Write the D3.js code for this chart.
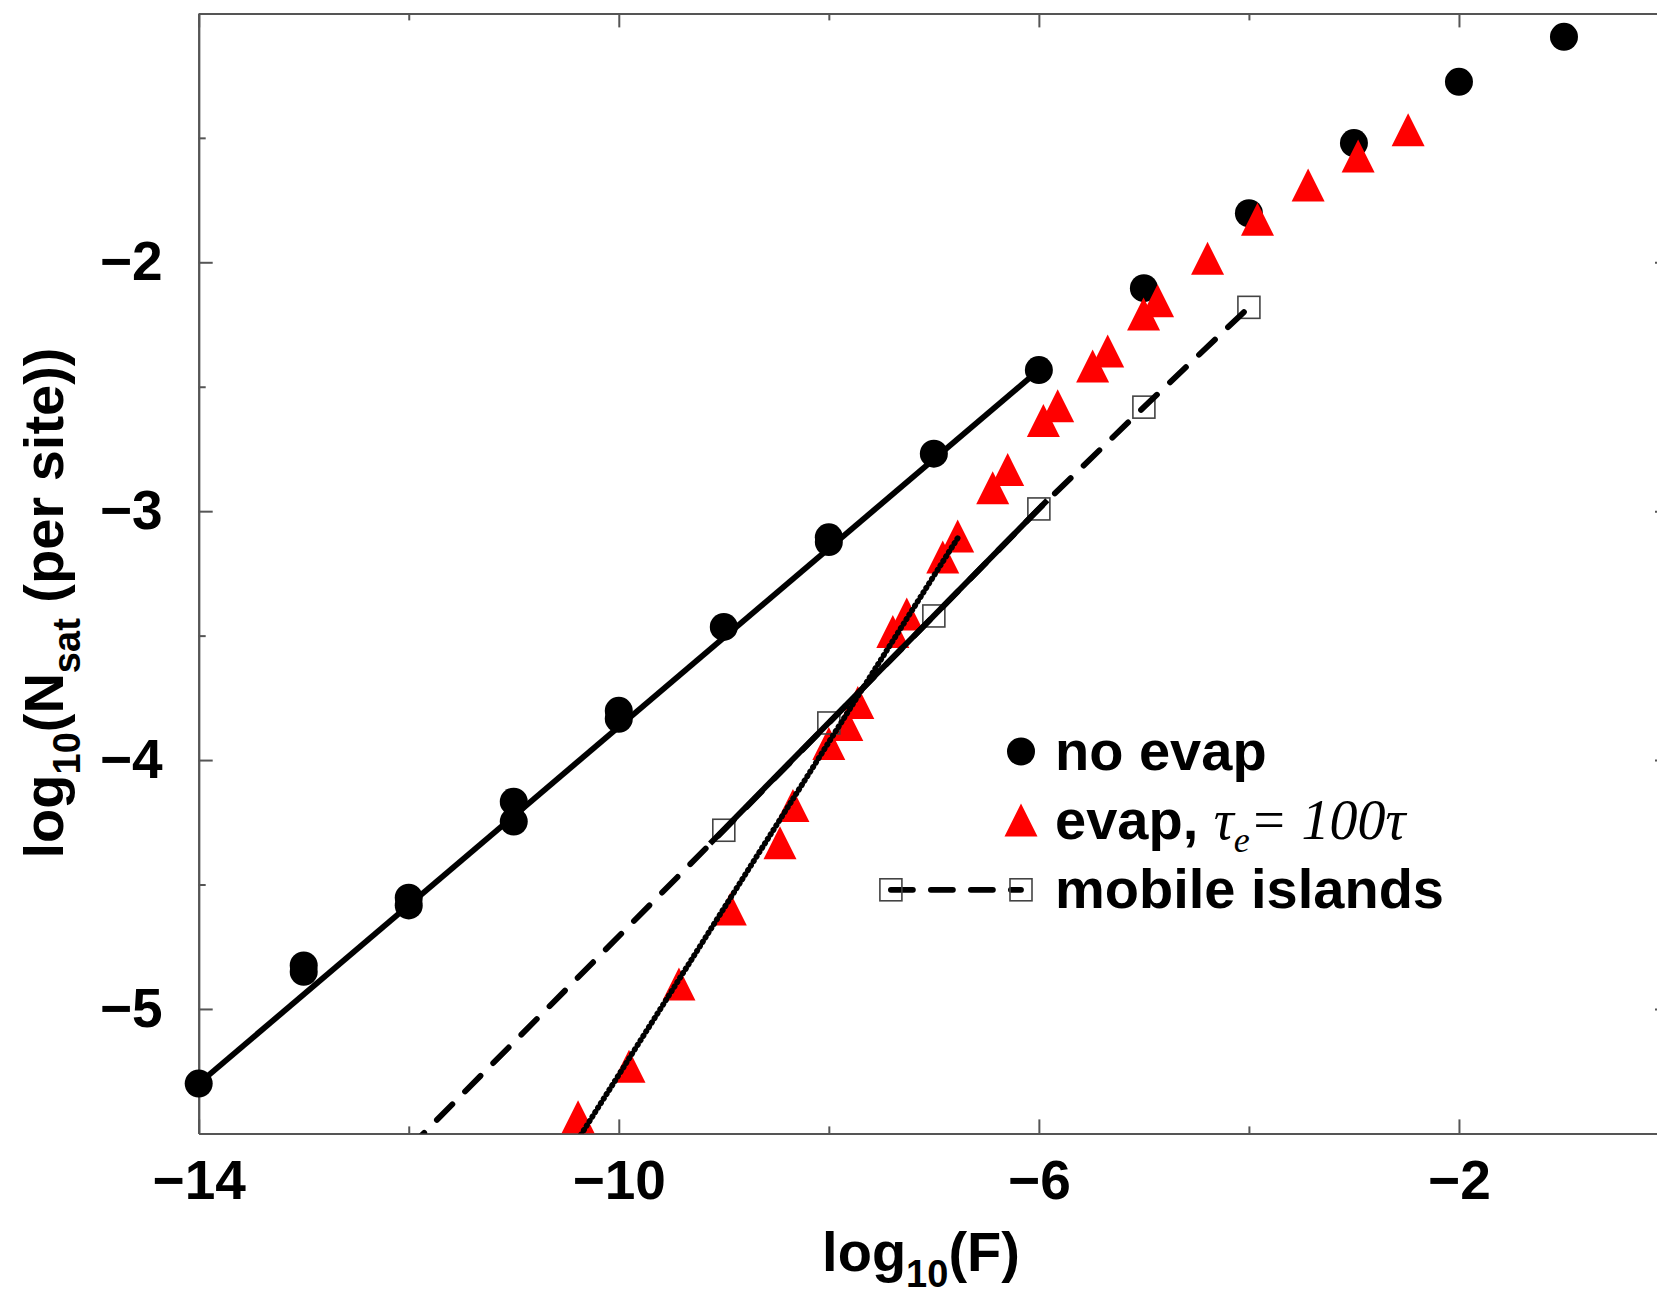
<!DOCTYPE html>
<html><head><meta charset="utf-8">
<script src="https://cdn.jsdelivr.net/npm/d3@7"></script>
<style>
html,body{margin:0;padding:0;background:#fff;overflow:hidden;}
svg{display:block;}
text{font-family:"Liberation Sans", Arial, Helvetica, sans-serif;font-weight:bold;fill:#000;}
</style></head><body>
<svg id="chart" width="1657" height="1294"></svg>
<script>
// ---------- data ----------
const noEvapX = [-14, -13, -13, -12, -12, -11, -11, -10, -10, -9, -8, -8, -7, -6, -5, -4, -3, -2, -1];
const noEvapY = [-5.30, -4.825, -4.851, -4.553, -4.584, -4.167, -4.247, -3.802, -3.834, -3.465, -3.105, -3.124, -2.769, -2.433, -2.104, -1.803, -1.521, -1.275, -1.094];

const evapX = [-10.388, -9.903, -9.427, -8.938, -8.465, -8.342, -8.0, -7.829, -7.724, -7.391, -7.258, -6.915, -6.773, -6.44, -6.297, -5.957, -5.821, -5.488, -5.345, -5.003, -4.87, -4.394, -3.918, -3.436, -2.96, -2.484];
const evapY = [-5.433, -5.230, -4.900, -4.598, -4.332, -4.183, -3.933, -3.857, -3.769, -3.483, -3.413, -3.184, -3.100, -2.906, -2.833, -2.636, -2.576, -2.417, -2.356, -2.208, -2.155, -1.984, -1.827, -1.689, -1.573, -1.467];

const mobileX = [-12, -9, -8, -7, -6, -5, -4];
const mobileY = [-5.56, -4.282, -3.851, -3.421, -2.991, -2.582, -2.181];

// fitted power laws (end points)
const fitNoEvapX = [-14, -6];
const fitNoEvapY = [-5.30, -2.433];
const fitMobileX = [-9.13, -5.92];
const fitMobileY = [-4.335, -2.956];
const fitEvapX = [-10.36, -6.77];
const fitEvapY = [-5.505, -3.106];

const xMajorTicks = [-14, -10, -6, -2];
const xMinorTicks = [-12, -8, -4, 0];
const yMajorTicks = [-5, -4, -3, -2];
const yMinorTicks = [-4.5, -3.5, -2.5, -1.5];

const legendLabels = ["no evap", "evap,", "mobile islands"];

// ---------- layout ----------
const svg = d3.select("#chart");
const L = 198.7, R = 1669, T = 13.4, B = 1133.4;
const x = d3.scaleLinear().domain([-14, 0]).range([L, R]);
const y = d3.scaleLinear().domain([-5.5, -1]).range([B, T]);
const frameColor = "#555";

svg.append("defs").append("clipPath").attr("id", "plotclip")
  .append("rect").attr("x", L).attr("y", T).attr("width", R - L).attr("height", B - T);

// ---------- axes ----------
function styleAxis(g) {
  g.selectAll("path.domain").attr("stroke", frameColor).attr("stroke-width", 2);
  g.selectAll(".tick line").attr("stroke", frameColor).attr("stroke-width", 2);
  g.selectAll("text").attr("font-size", 55).attr("font-family", "Liberation Sans, Arial, sans-serif").attr("font-weight", "bold").attr("fill", "#000");
}
const fmt = d => d3.format("d")(d).replace("-", "\u2212");

svg.append("g").attr("transform", `translate(0,${B})`)
  .call(d3.axisBottom(x).tickValues(xMajorTicks).tickFormat(fmt).tickSizeInner(-14).tickSizeOuter(0).tickPadding(27))
  .call(styleAxis);
svg.append("g").attr("transform", `translate(0,${B})`)
  .call(d3.axisBottom(x).tickValues(xMinorTicks).tickFormat("").tickSizeInner(-7).tickSizeOuter(0))
  .call(styleAxis);
svg.append("g").attr("transform", `translate(0,${T})`)
  .call(d3.axisTop(x).tickValues(xMajorTicks).tickFormat("").tickSizeInner(-14).tickSizeOuter(0))
  .call(styleAxis);
svg.append("g").attr("transform", `translate(0,${T})`)
  .call(d3.axisTop(x).tickValues(xMinorTicks).tickFormat("").tickSizeInner(-7).tickSizeOuter(0))
  .call(styleAxis);

svg.append("g").attr("transform", `translate(${L},0)`)
  .call(d3.axisLeft(y).tickValues(yMajorTicks).tickFormat(fmt).tickSizeInner(-14).tickSizeOuter(0).tickPadding(36))
  .call(styleAxis);
svg.append("g").attr("transform", `translate(${L},0)`)
  .call(d3.axisLeft(y).tickValues(yMinorTicks).tickFormat("").tickSizeInner(-7).tickSizeOuter(0))
  .call(styleAxis);
svg.append("g").attr("transform", `translate(${R},0)`)
  .call(d3.axisRight(y).tickValues(yMajorTicks).tickFormat("").tickSizeInner(-14).tickSizeOuter(0))
  .call(styleAxis);
svg.append("g").attr("transform", `translate(${R},0)`)
  .call(d3.axisRight(y).tickValues(yMinorTicks).tickFormat("").tickSizeInner(-7).tickSizeOuter(0))
  .call(styleAxis);

// ---------- marks ----------
const noEvap = noEvapX.map((v, i) => [v, noEvapY[i]]);
const evap = evapX.map((v, i) => [v, evapY[i]]);
const mobile = mobileX.map((v, i) => [v, mobileY[i]]);
const line = d3.line().x(d => x(d[0])).y(d => y(d[1]));
const triPath = "M0,-16.5L16.5,16.5L-16.5,16.5Z";

svg.append("g").selectAll("circle").data(noEvap).join("circle")
  .attr("cx", d => x(d[0])).attr("cy", d => y(d[1])).attr("r", 14).attr("fill", "#000");

svg.append("g").selectAll("path").data(evap).join("path")
  .attr("d", triPath).attr("transform", d => `translate(${x(d[0])},${y(d[1])})`).attr("fill", "#ff0000");

const clipped = svg.append("g").attr("clip-path", "url(#plotclip)");
clipped.selectAll("rect.sq").data(mobile).join("rect").attr("class", "sq")
  .attr("x", d => x(d[0]) - 11).attr("y", d => y(d[1]) - 11).attr("width", 22).attr("height", 22)
  .attr("fill", "none").attr("stroke", "#444").attr("stroke-width", 1.6);

clipped.append("path").datum(mobile).attr("d", line)
  .attr("fill", "none").attr("stroke", "#000").attr("stroke-width", 5.8)
  .attr("stroke-linecap", "round").attr("stroke-dasharray", "22,18");

clipped.append("path").datum(fitNoEvapX.map((v, i) => [v, fitNoEvapY[i]])).attr("d", line)
  .attr("fill", "none").attr("stroke", "#000").attr("stroke-width", 5.8);
clipped.append("path").datum(fitMobileX.map((v, i) => [v, fitMobileY[i]])).attr("d", line)
  .attr("fill", "none").attr("stroke", "#000").attr("stroke-width", 5.8);
clipped.append("path").datum(fitEvapX.map((v, i) => [v, fitEvapY[i]])).attr("d", line)
  .attr("fill", "none").attr("stroke", "#000").attr("stroke-width", 5.8)
  .attr("stroke-linecap", "round").attr("stroke-dasharray", "0.5,4.8");

// ---------- axis titles ----------
const xt = svg.append("text").attr("x", 921).attr("y", 1271).attr("text-anchor", "middle").attr("font-size", 56);
xt.append("tspan").text("log");
xt.append("tspan").attr("font-size", 38).attr("dy", 16).text("10");
xt.append("tspan").attr("dy", -16).text("(F)");

const yt = svg.append("text").attr("transform", "translate(62.5,603) rotate(-90)").attr("text-anchor", "middle").attr("font-size", 56);
yt.append("tspan").text("log");
yt.append("tspan").attr("font-size", 38).attr("dy", 17).text("10");
yt.append("tspan").attr("dy", -17).text("(N");
yt.append("tspan").attr("font-size", 38).attr("dy", 17).text("sat");
yt.append("tspan").attr("dy", -17).text(" (per site))");

// ---------- legend ----------
const lg = svg.append("g");
const lgX = 1021, txtX = 1055;
lg.append("circle").attr("cx", lgX).attr("cy", 751.5).attr("r", 14).attr("fill", "#000");
lg.append("text").attr("x", txtX).attr("y", 769.5).attr("font-size", 56).text(legendLabels[0]);

lg.append("path").attr("d", triPath).attr("transform", `translate(${lgX},820)`).attr("fill", "#ff0000");
const t2 = lg.append("text").attr("x", txtX).attr("y", 839).attr("font-size", 56);
t2.append("tspan").text(legendLabels[1] + " ");
const it = "font-family:'Liberation Serif','Times New Roman',serif;font-style:italic;font-weight:normal;";
t2.append("tspan").attr("style", it).text("\u03C4");
t2.append("tspan").attr("style", it).attr("font-size", 36).attr("dy", 13).text("e");
t2.append("tspan").attr("style", it).attr("dy", -13).text("= 100\u03C4");

lg.append("line").attr("x1", 890.9).attr("x2", lgX).attr("y1", 889.8).attr("y2", 889.8)
  .attr("stroke", "#000").attr("stroke-width", 5.8).attr("stroke-linecap", "round").attr("stroke-dasharray", "22,18");
[890.9, lgX].forEach(cx => lg.append("rect").attr("x", cx - 11).attr("y", 889.8 - 11).attr("width", 22).attr("height", 22)
  .attr("fill", "none").attr("stroke", "#444").attr("stroke-width", 1.6));
lg.append("text").attr("x", txtX).attr("y", 908).attr("font-size", 56).text(legendLabels[2]);
</script>
</body></html>
